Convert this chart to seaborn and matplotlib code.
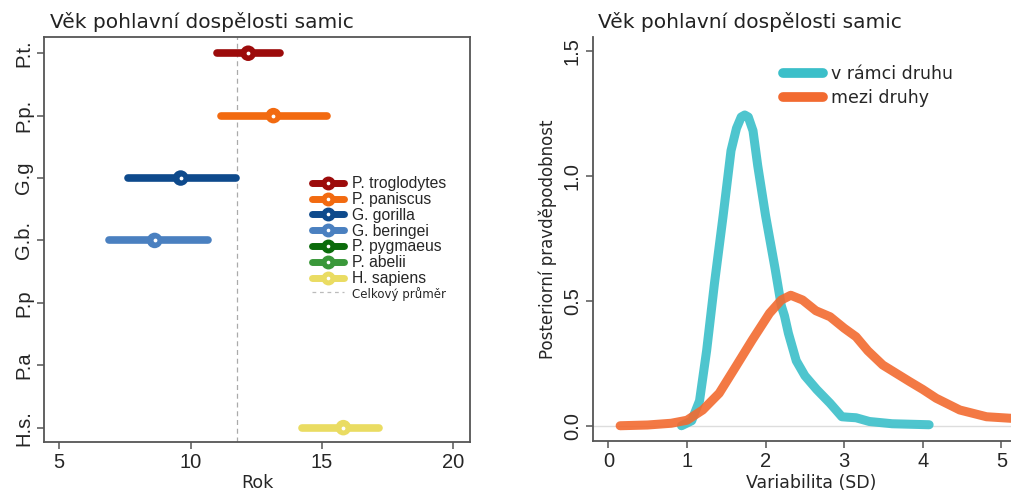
import numpy as np
import pandas as pd
import matplotlib.pyplot as plt
from matplotlib.lines import Line2D
import seaborn as sns

# Left panel: age at female sexual maturity per species
row_labels = ['P.t.', 'P.p.', 'G.g', 'G.b.', 'P.p', 'P.a', 'H.s.']
species = ['P. troglodytes', 'P. paniscus', 'G. gorilla', 'G. beringei',
           'P. pygmaeus', 'P. abelii', 'H. sapiens']
species_colors = ['#9c0b0b', '#f26a10', '#0e4a8c', '#4a80c0',
                  '#0b6b0b', '#3a983a', '#eadc62']
age_mean = [12.19, 13.15, 9.62, 8.63, np.nan, np.nan, 15.81]
age_low = [11.01, 11.14, 7.63, 6.90, np.nan, np.nan, 14.23]
age_high = [13.39, 15.18, 11.73, 10.66, np.nan, np.nan, 17.18]
overall_mean = 11.76

# Right panel: posterior densities of variability
within_x = [0.93, 1.06, 1.16, 1.25, 1.35, 1.46, 1.56, 1.63, 1.69, 1.735, 1.78, 1.84,
            1.90, 2.0, 2.12, 2.2, 2.24, 2.29, 2.39, 2.5, 2.65, 2.82, 2.97, 3.05,
            3.15, 3.32, 3.61, 4.08]
within_y = [0.0, 0.02, 0.10, 0.30, 0.57, 0.84, 1.10, 1.19, 1.235, 1.243, 1.235, 1.18,
            1.04, 0.84, 0.63, 0.48, 0.44, 0.37, 0.26, 0.20, 0.145, 0.09, 0.036, 0.034,
            0.032, 0.017, 0.008, 0.004]
between_x = [0.15, 0.5, 0.8, 1.0, 1.2, 1.41, 1.62, 1.83, 2.05, 2.20, 2.32, 2.47,
             2.64, 2.82, 3.0, 3.15, 3.3, 3.49, 3.66, 3.83, 4.0, 4.17, 4.47, 4.81,
             5.11, 5.4]
between_y = [0.0, 0.003, 0.01, 0.022, 0.063, 0.13, 0.236, 0.343, 0.45, 0.503, 0.522, 0.503,
             0.46, 0.436, 0.39, 0.356, 0.30, 0.243, 0.21, 0.177, 0.145, 0.11, 0.063, 0.036,
             0.03, 0.025]
density_labels = ['v rámci druhu', 'mezi druhy']
density_colors = ['#3bbfc9', '#f26a30']

sns.set_style('white')
plt.rcParams['font.family'] = ['DejaVu Sans']
tick_font = 'Liberation Sans'
axis_grey = '#555555'
title_text = 'Věk pohlavní dospělosti samic'

fig = plt.figure(figsize=(10.11, 4.92), dpi=100)
ax1 = fig.add_axes([44 / 1011, 50 / 492, 426 / 1011, 405 / 492])
ax2 = fig.add_axes([593 / 1011, 51 / 492, 436 / 1011, 404 / 492])

# ---- left panel ----
pos = np.arange(len(row_labels))[::-1]
left_df = pd.DataFrame({'species': species, 'pos': pos, 'mean': age_mean,
                        'low': age_low, 'high': age_high})
palette = dict(zip(species, species_colors))

ax1.axvline(overall_mean, color='#aaaaaa', lw=0.9, ls=(0, (4, 3)), zorder=1)
ax1.hlines(left_df['pos'], left_df['low'], left_df['high'], colors=species_colors,
           lw=5.5, capstyle='round', zorder=2)
sns.scatterplot(data=left_df, x='mean', y='pos', hue='species', palette=palette,
                s=125, linewidth=0, legend=False, ax=ax1, zorder=3)
ax1.scatter(left_df['mean'], left_df['pos'], s=3, color='white', zorder=4)

ax1.set_xlim(4.42, 20.63)
ax1.set_ylim(-0.23, 6.26)
ax1.set_xticks([5, 10, 15, 20])
ax1.set_yticks(pos)
ax1.set_yticklabels(row_labels, rotation=90, va='center')
ax1.set_xlabel('Rok', fontsize=12.5)
ax1.xaxis.set_label_coords(0.5, -0.08)
ax1.set_ylabel('')
for s in ax1.spines.values():
    s.set_color(axis_grey)
    s.set_linewidth(1.3)

handles = []
for c in species_colors:
    handles.append((Line2D([], [], color=c, lw=5, marker='o', markersize=9,
                           solid_capstyle='round'),
                    Line2D([], [], ls='', marker='o', markersize=1.6, color='white')))
handles.append(Line2D([], [], color='#bbbbbb', lw=0.9, ls=(0, (3, 3))))
leg1 = ax1.legend(handles, species + ['Celkový průměr'], loc='upper left',
                  bbox_to_anchor=(0.63, 0.656), frameon=False, fontsize=11.3,
                  labelspacing=0.05, handlelength=2.0, handletextpad=0.5,
                  borderaxespad=0, borderpad=0)
for t in leg1.get_texts()[:-1]:
    t.set_fontfamily(tick_font)
leg1.get_texts()[-1].set_fontsize(8.5)

ax1.text(0.015, 1.022, title_text, transform=ax1.transAxes,
         fontsize=14.5, color='#222222', va='baseline')

# ---- right panel ----
dens = pd.concat([
    pd.DataFrame({'x': within_x, 'y': within_y, 'typ': density_labels[0]}),
    pd.DataFrame({'x': between_x, 'y': between_y, 'typ': density_labels[1]}),
])
ax2.axhline(0, color='#dddddd', lw=1, zorder=0)
sns.lineplot(data=dens, x='x', y='y', hue='typ', palette=density_colors,
             sort=False, estimator=None, lw=6.5, alpha=0.9, ax=ax2)
for ln in ax2.lines[1:]:
    ln.set_solid_capstyle('round')
    ln.set_solid_joinstyle('round')

ax2.set_xlim(-0.195, 5.35)
ax2.set_ylim(-0.061, 1.555)
ax2.set_xticks([0, 1, 2, 3, 4, 5])
ax2.set_yticks([0.0, 0.5, 1.0, 1.5])
ax2.set_yticklabels(['0.0', '0.5', '1.0', '1.5'], rotation=90, va='center')
ax2.set_xlabel('Variabilita (SD)', fontsize=12.5)
ax2.xaxis.set_label_coords(0.5, -0.082)
ax2.set_ylabel('Posteriorní pravděpodobnost', fontsize=12, labelpad=4)
ax2.spines['top'].set_visible(False)
ax2.spines['right'].set_visible(False)
for s in ['left', 'bottom']:
    ax2.spines[s].set_color(axis_grey)
    ax2.spines[s].set_linewidth(1.3)

h2 = [Line2D([], [], color=c, lw=7, solid_capstyle='round') for c in density_colors]
ax2.legend(h2, density_labels, loc='upper left', bbox_to_anchor=(0.436, 0.93),
           frameon=False, fontsize=12.5, handlelength=2.3, handletextpad=0.45,
           labelspacing=0.35, borderaxespad=0, borderpad=0)
ax2.text(0.011, 1.022, title_text, transform=ax2.transAxes,
         fontsize=14.5, color='#222222', va='baseline')

for ax in [ax1, ax2]:
    ax.tick_params(axis='both', which='major', direction='out', length=5, width=1.1,
                   color=axis_grey, labelsize=14.5, pad=3, left=True, bottom=True)
    for t in ax.get_xticklabels() + ax.get_yticklabels():
        t.set_fontfamily(tick_font)

plt.savefig('out.png', dpi=100)
